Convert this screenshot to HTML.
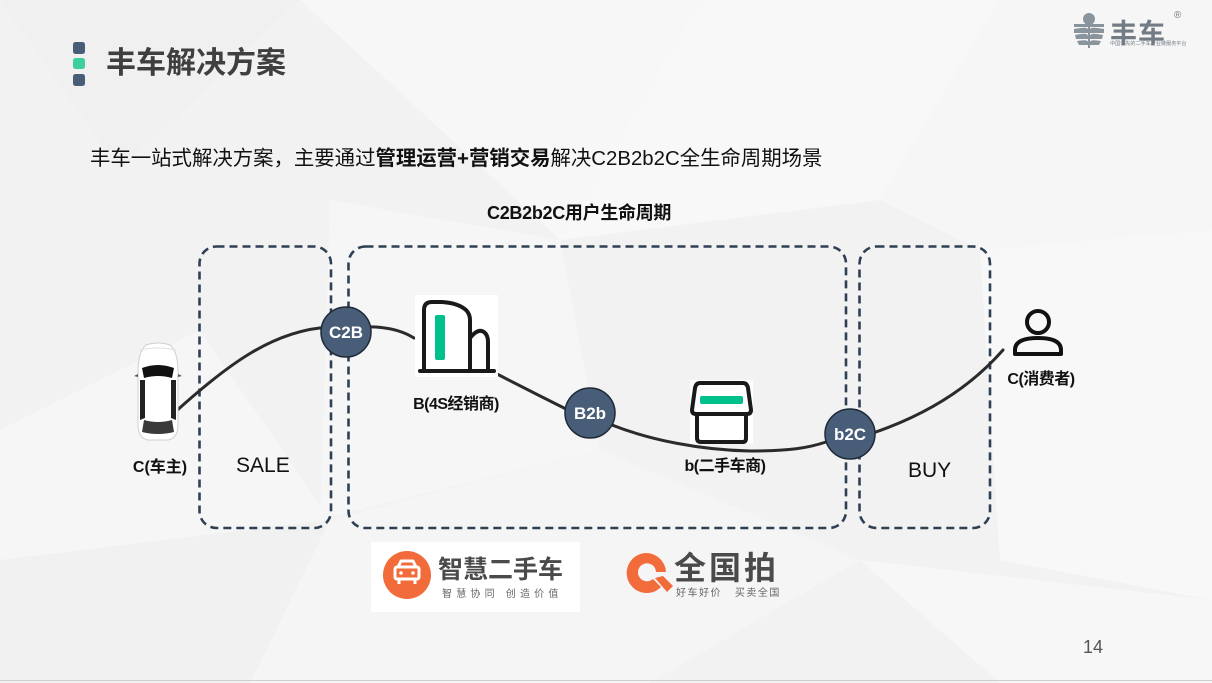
<!DOCTYPE html>
<html><head><meta charset="utf-8">
<style>
html,body{margin:0;padding:0;}
body{width:1212px;height:683px;position:relative;overflow:hidden;background:#f3f2f2;font-family:"Liberation Sans","Noto Sans CJK SC",sans-serif;}
.abs{position:absolute;white-space:nowrap;}
.lbl{font-weight:bold;font-size:16px;color:#111;transform:translateX(-50%);}
</style></head>
<body>
<svg width="1212" height="683" style="position:absolute;left:0;top:0" xmlns="http://www.w3.org/2000/svg">
  <!-- background low-poly (subtle) -->
  <polygon points="300,0 700,0 560,240" fill="#f7f7f7"/>
  <polygon points="560,240 700,0 1000,0 880,200" fill="#f8f8f8"/>
  <polygon points="880,200 1000,0 1212,0 1212,230 980,250" fill="#f6f6f6"/>
  <polygon points="0,0 300,0 120,170" fill="#f1f0f0"/>
  <polygon points="0,430 200,330 330,520 0,560" fill="#f6f6f6"/>
  <polygon points="330,200 560,240 600,450 320,520" fill="#f6f6f6"/>
  <polygon points="600,450 880,200 990,330 860,560" fill="#f3f2f2"/>
  <polygon points="980,250 1212,230 1212,600 1000,560" fill="#f8f8f8"/>
  <polygon points="860,560 1212,600 1212,683 1000,683" fill="#f7f7f7"/>
  <polygon points="0,560 330,520 250,683 0,683" fill="#f2f1f1"/>
  <polygon points="330,520 600,450 860,560 650,683 250,683" fill="#f5f5f5"/>
  <line x1="0" y1="680.5" x2="1212" y2="680.5" stroke="#cfcfcf" stroke-width="1"/>

  <!-- header bullets -->
  <rect x="73" y="42" width="12" height="12" rx="2.5" fill="#485d78"/>
  <rect x="73" y="58" width="12" height="11" rx="2.5" fill="#3ecf9e"/>
  <rect x="73" y="74" width="12" height="12" rx="2.5" fill="#485d78"/>

  <!-- top-right logo icon -->
  <g fill="#8a949c">
    <path d="M1089,13 a6,6 0 0 1 0,12 a6,6 0 0 1 0,-12z" />
    <path d="M1074,24 h30 v3 h-30z"/>
    <path d="M1074,29 q15,-3 14,1 v3 h-14z"/>
    <path d="M1104,29 q-15,-3 -14,1 v3 h14z"/>
    <path d="M1075,35 q13,-3 13,1 v3 h-12z"/>
    <path d="M1103,35 q-13,-3 -13,1 v3 h12z"/>
    <path d="M1077,41 q11,-2 11,1 v3 h-9z"/>
    <path d="M1101,41 q-11,-2 -11,1 v3 h9z"/>
    <path d="M1088,25 h2 v23 h-2z"/>
  </g>

  <!-- dashed boxes -->
  <g fill="none" stroke="#2f4054" stroke-width="2.6" stroke-dasharray="8 5">
    <rect x="199.5" y="246.5" width="131.5" height="281.5" rx="17"/>
    <rect x="348.5" y="246.5" width="497.5" height="281.5" rx="17"/>
    <rect x="859.5" y="246.5" width="130.5" height="281.5" rx="17"/>
  </g>

  <!-- curves -->
  <g fill="none" stroke="#2b2b2b" stroke-width="3" stroke-linecap="round">
    <path d="M173,414 C230,362 275,330 330,327"/>
    <path d="M365,327 Q395,326 414,338"/>
    <path d="M497,374 Q532,392 568,410"/>
    <path d="M612,425 C650,440 700,450 750,451 C790,451 808,448 826,442"/>
    <path d="M873,433 Q955,405 1003,350"/>
  </g>

  <!-- car -->
  <g>
    <path d="M146,345 Q158,341 170,345 Q178,352 178,372 L178,425 Q178,438 168,440 L148,440 Q138,438 138,425 L138,372 Q138,352 146,345z" fill="#ffffff" stroke="#cfcfcf" stroke-width="1"/>
    <path d="M142,368 Q158,362 174,368 L172,378 Q158,374 144,378z" fill="#111"/>
    <path d="M140,380 L145,380 L145,418 L140,420z" fill="#222"/>
    <path d="M176,380 L171,380 L171,418 L176,420z" fill="#222"/>
    <path d="M144,420 Q158,424 172,420 L174,432 Q158,436 142,432z" fill="#3a3a3a"/>
    <path d="M138,374 l-4,2 l4,1z" fill="#555"/>
    <path d="M178,374 l4,2 l-4,1z" fill="#555"/>
    <path d="M140,350 Q158,346 176,350" stroke="#e0e0e0" fill="none"/>
  </g>

  <!-- building icon -->
  <rect x="415" y="295" width="83" height="82" fill="#ffffff"/>
  <g fill="none" stroke="#1a1a1a" stroke-width="4" stroke-linejoin="round" stroke-linecap="round">
    <path d="M424,370 L424,310 Q424,302 432,302 L442,302 Q458,303 466,310 Q470,314 470,320 L470,370"/>
    <path d="M470,338 Q478,328 484,332 Q488,335 488,342 L488,370"/>
    <path d="M420,371 L494,371"/>
  </g>
  <rect x="435" y="315" width="10" height="45" rx="2" fill="#00c08b"/>

  <!-- store icon -->
  <rect x="690" y="380" width="63" height="64" fill="#ffffff"/>
  <g fill="none" stroke="#1a1a1a" stroke-width="4" stroke-linejoin="round">
    <path d="M700,383 L743,383 Q747,383 748,388 L751,410 Q751,414 747,414 L696,414 Q692,414 692,410 L695,388 Q696,383 700,383z"/>
    <path d="M697,414 L697,438 Q697,442 701,442 L743,442 Q746,442 746,438 L746,414"/>
  </g>
  <rect x="700" y="396" width="43" height="8" rx="2" fill="#00c08b"/>

  <!-- person icon -->
  <g fill="none" stroke="#111" stroke-width="4" stroke-linejoin="round">
    <circle cx="1038" cy="322" r="11"/>
    <path d="M1015,354 L1015,350 Q1015,338 1038,338 Q1061,338 1061,350 L1061,354z"/>
  </g>

  <!-- circles -->
  <g stroke="#1f2a38" stroke-width="1.5" fill="#485d78">
    <circle cx="346" cy="332" r="25"/>
    <circle cx="590" cy="413" r="25"/>
    <circle cx="850" cy="434" r="25"/>
  </g>
  <g fill="#ffffff" font-family="Liberation Sans, sans-serif" font-weight="bold" font-size="17" text-anchor="middle">
    <text x="346" y="338">C2B</text>
    <text x="590" y="419">B2b</text>
    <text x="850" y="440">b2C</text>
  </g>

  <!-- 智慧二手车 logo -->
  <rect x="371" y="542" width="209" height="70" fill="#ffffff"/>
  <circle cx="407" cy="575" r="24" fill="#f26b3a"/>
  <g fill="none" stroke="#ffffff" stroke-width="3" stroke-linejoin="round">
    <path d="M398,567 L401,561 L413,561 L416,567"/>
    <rect x="395" y="567" width="24" height="12" rx="2"/>
    <path d="M399,579 v5 M415,579 v5"/>
  </g>
  <circle cx="401" cy="573" r="1.8" fill="#fff"/>
  <circle cx="413" cy="573" r="1.8" fill="#fff"/>

  <!-- 全国拍 Q icon -->
  <path d="M647,553 a20,20 0 1 0 14,34 l-8,-8 a9,9 0 1 1 3,-7 l10,0 a20,20 0 0 0 -19,-19z" fill="#f26b3a"/>
  <path d="M655,578 l12,14 l6,-6 l-10,-10z" fill="#f26b3a"/>
</svg>

<div class="abs" style="left:1110px;top:12px;font-size:27px;font-weight:bold;color:#737c84;letter-spacing:1px;font-family:'Liberation Sans','Noto Sans CJK SC',sans-serif;">丰车</div>
<div class="abs" style="left:1174px;top:10px;font-size:10px;color:#737c84;">®</div>
<div class="abs" style="left:1110px;top:39px;font-size:6px;color:#737c84;font-family:'Liberation Sans','Noto Sans CJK SC',sans-serif;transform:scale(0.85);transform-origin:left top;">中国领先的二手车产业链服务平台</div>

<div class="abs" style="left:106px;top:44px;font-size:30px;font-weight:bold;color:#3f3f3f;line-height:40px;">丰车解决方案</div>

<div class="abs" style="left:90px;top:145px;font-size:20.4px;color:#111;line-height:28px;">丰车一站式解决方案，主要通过<b>管理运营+营销交易</b>解决C2B2b2C全生命周期场景</div>

<div class="abs" style="left:487px;top:201px;font-size:18px;font-weight:bold;color:#111;line-height:24px;letter-spacing:-0.3px;">C2B2b2C用户生命周期</div>

<div class="abs lbl" style="left:160px;top:453px;">C(车主)</div>
<div class="abs" style="left:236px;top:454px;font-size:21px;color:#111;">SALE</div>
<div class="abs lbl" style="left:456px;top:390px;letter-spacing:-0.5px;">B(4S经销商)</div>
<div class="abs lbl" style="left:725px;top:452px;letter-spacing:-0.5px;">b(二手车商)</div>
<div class="abs lbl" style="left:1041px;top:365px;letter-spacing:-0.5px;">C(消费者)</div>
<div class="abs" style="left:908px;top:459px;font-size:21px;color:#111;">BUY</div>

<div class="abs" style="left:438px;top:555px;font-size:25px;font-weight:bold;color:#4a4a4a;line-height:30px;">智慧二手车</div>
<div class="abs" style="left:442px;top:588px;font-size:10px;color:#666;letter-spacing:4.2px;line-height:14px;">智慧协同 创造价值</div>

<div class="abs" style="left:674px;top:549px;font-size:32px;font-weight:bold;color:#4a4a4a;letter-spacing:3px;line-height:38px;">全国拍</div>
<div class="abs" style="left:676px;top:587px;font-size:10px;color:#666;letter-spacing:1.5px;line-height:14px;">好车好价&nbsp;&nbsp;&nbsp;买卖全国</div>

<div class="abs" style="left:1083px;top:636px;font-size:18px;color:#555;line-height:22px;">14</div>
</body></html>
